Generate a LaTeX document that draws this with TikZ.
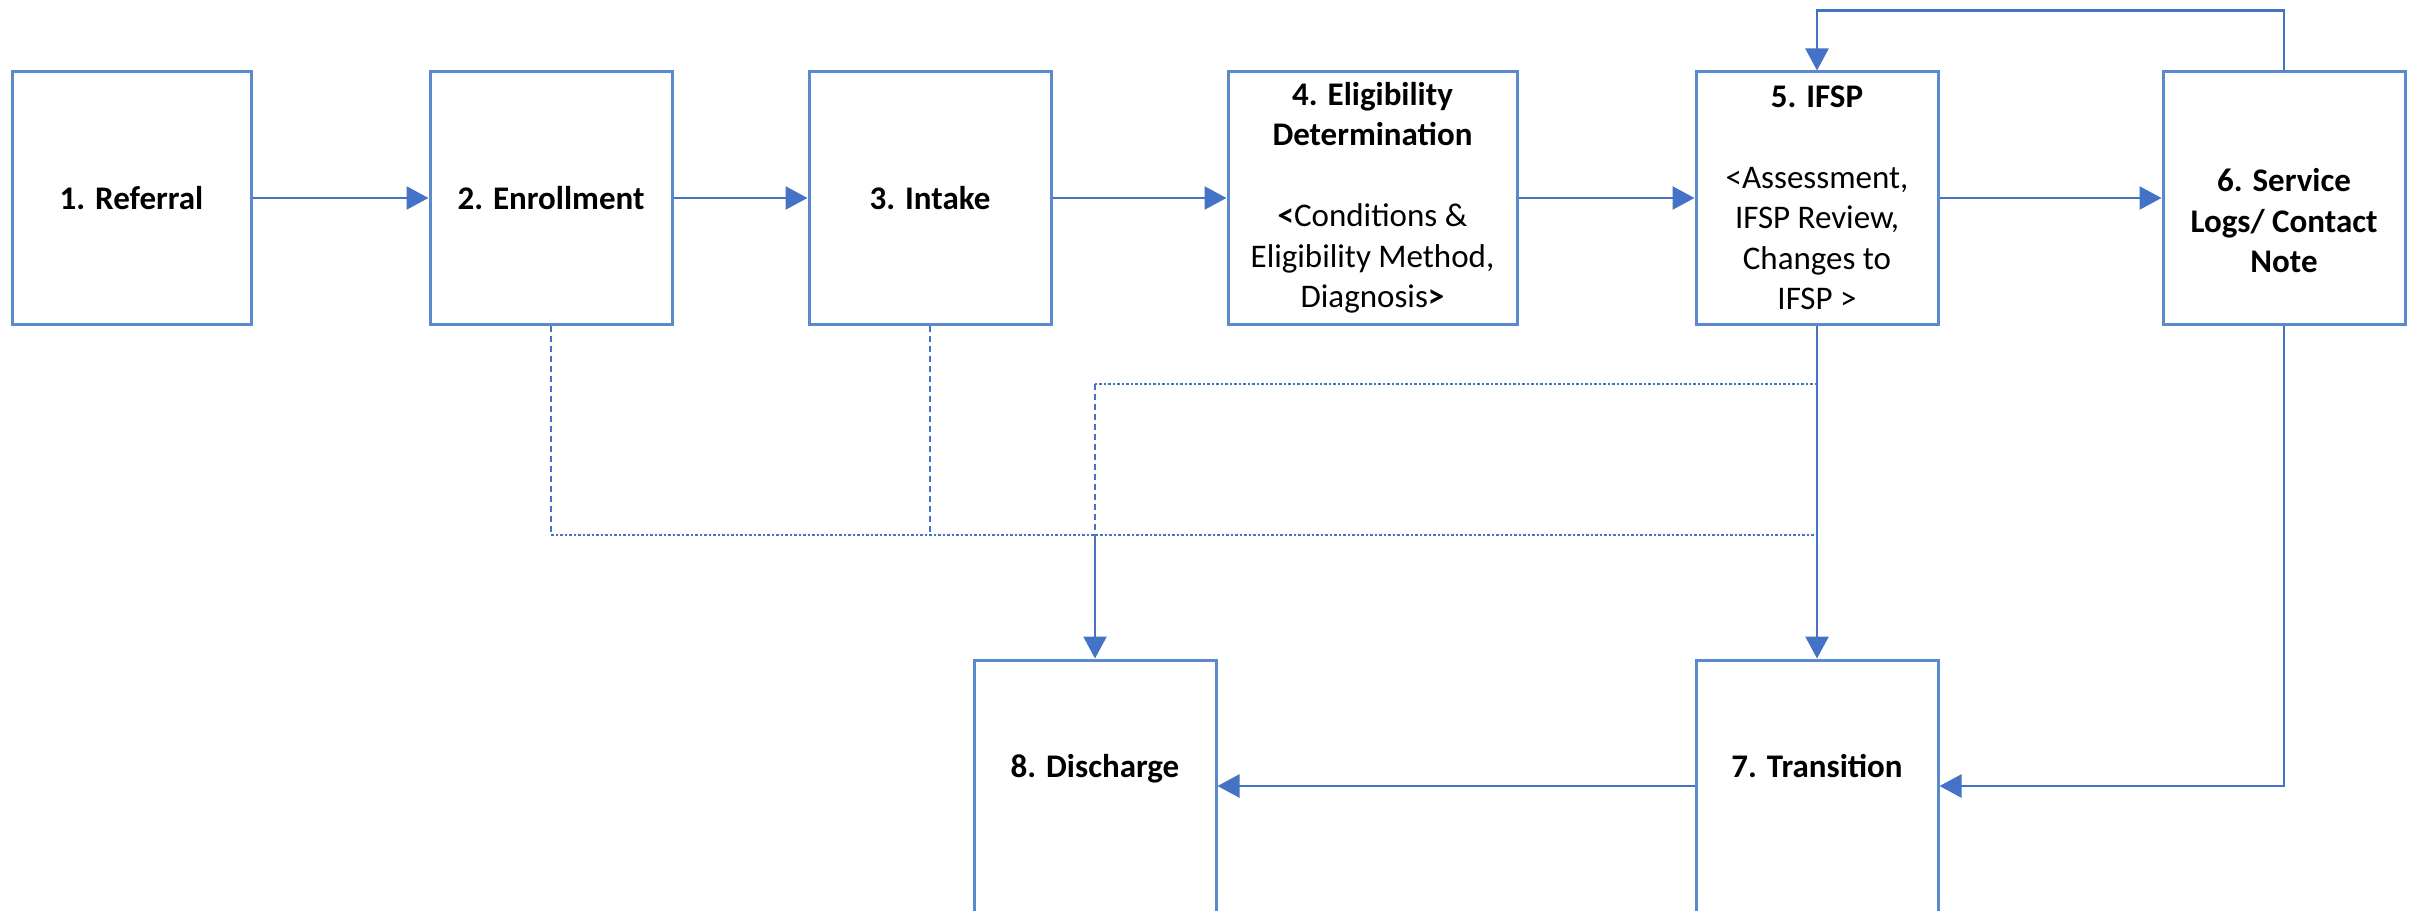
\documentclass[tikz,border=0pt]{standalone}
\usepackage{fontspec}
\setmainfont{Carlito}
\usetikzlibrary{arrows.meta,positioning}

\definecolor{boxblue}{RGB}{91,137,206}
\definecolor{lineblue}{RGB}{68,114,196}

\begin{document}
\begin{tikzpicture}[
  x=1pt, y=-1pt,
  font=\fontsize{33}{40.5}\selectfont,
  stepbox/.style={
    draw=boxblue,
    line width=3pt,
    fill=white,
    rectangle,
    minimum width=242pt,
    minimum height=252pt,
    align=center,
    inner sep=0pt
    },
  flow/.style={
    draw=lineblue,
    line width=2.5pt,
    -{Triangle[length=22pt,width=23pt]}
    },
  plain/.style={draw=lineblue, line width=2.5pt},
  dotline/.style={draw=lineblue, line width=2.5pt, dash pattern=on 2.5pt off 2pt},
  dashline/.style={draw=lineblue, line width=2pt, dash pattern=on 6pt off 4pt}
]

\useasboundingbox (0,0) rectangle (2417,912);
\clip (0,0) rectangle (2417,910.5);

% top row
\node [stepbox, minimum width=239pt] (referral) at (131.5,198) {\textbf{1. Referral}};
\node [stepbox] (enroll) at (551,198) {\textbf{2. Enrollment}};
\node [stepbox] (intake) at (930,198) {\textbf{3. Intake}};
\node [stepbox, minimum width=289pt] (elig) at (1372.5,198)
  {\textbf{4. Eligibility}\\ \textbf{Determination}\\ \mbox{}\\
   \textbf{<}Conditions \&\\ Eligibility Method,\\ Diagnosis\textbf{>}};
\node [stepbox] (ifsp) at (1817,198)
  {\textbf{5. IFSP}\\ \mbox{}\\ <Assessment,\\ IFSP Review,\\ Changes to\\ IFSP >};
\node [stepbox] (service) at (2284,198)
  {\strut\\ \textbf{6. Service}\\ \textbf{Logs/ Contact}\\ \textbf{Note}};

% bottom row
\node [stepbox] (discharge) at (1095,786) {\textbf{8. Discharge}\\ \mbox{}};
\node [stepbox] (transition) at (1817,786) {\textbf{7. Transition}\\ \mbox{}};

\coordinate (dtop) at (1095,384);
\coordinate (dbot) at (1095,535);

% dotted links
\draw [dotline] (ifsp.south |- dtop) -- (dtop);
\draw [dashline] (dtop) -- (dbot);
\draw [dashline] (enroll.south) -- (enroll.south |- dbot);
\draw [dashline] (intake.south) -- (intake.south |- dbot);
\draw [dotline] (enroll.south |- dbot) -- (ifsp.south |- dbot);

% main flow
\draw [flow] (referral) -- (enroll);
\draw [flow] (enroll) -- (intake);
\draw [flow] (intake) -- (elig);
\draw [flow] (elig) -- (ifsp);
\draw [flow] (ifsp) -- (service);
\draw [flow] (service.north) -- ++(0,-60) -| (ifsp.north);
\draw [flow] (ifsp.south) -- (transition.north);
\draw [flow] (service.south) |- (transition.east);
\draw [flow] (transition) -- (discharge);
\draw [flow] (dbot) -- (discharge.north);
\end{tikzpicture}
\end{document}
